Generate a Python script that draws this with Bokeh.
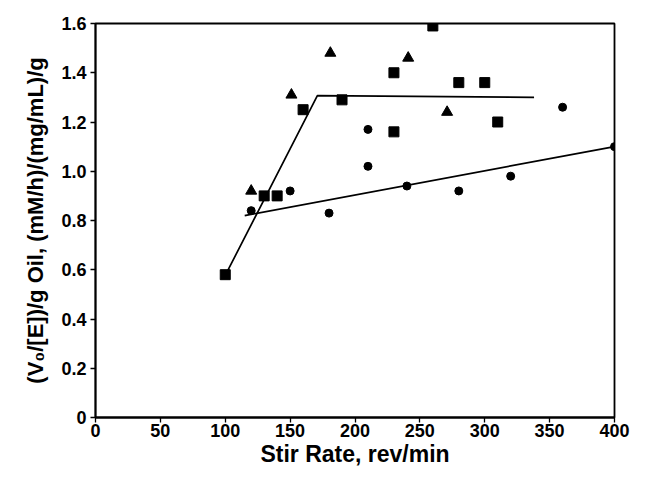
from bokeh.plotting import figure
from bokeh.embed import file_html
from bokeh.resources import INLINE
from bokeh.models import FixedTicker, Range1d

# --- data ---
circle_x = [120, 150, 180, 210, 210, 240, 280, 320, 360, 400]
circle_y = [0.84, 0.92, 0.83, 1.17, 1.02, 0.94, 0.92, 0.98, 1.26, 1.10]

square_x = [100, 130, 140, 160, 190, 230, 230, 260, 280, 300, 310]
square_y = [0.58, 0.90, 0.90, 1.25, 1.29, 1.40, 1.16, 1.59, 1.36, 1.36, 1.20]

triangle_x = [120, 151, 181, 241, 271]
triangle_y = [0.92, 1.31, 1.48, 1.46, 1.24]

# fitted trend lines
fit_circle_x = [115, 400]
fit_circle_y = [0.82, 1.10]
fit_square_x = [100, 171, 338]
fit_square_y = [0.577, 1.307, 1.30]

x_ticks = [0, 50, 100, 150, 200, 250, 300, 350, 400]
y_ticks = [0, 0.2, 0.4, 0.6, 0.8, 1.0, 1.2, 1.4, 1.6]
y_tick_labels = ["0", "0.2", "0.4", "0.6", "0.8", "1.0", "1.2", "1.4", "1.6"]

FONT = "Liberation Sans"

p = figure(width=631, height=469, output_backend="svg", toolbar_location=None,
           x_range=Range1d(0, 400), y_range=Range1d(0, 1.6),
           min_border_left=95, min_border_right=17, min_border_top=23, min_border_bottom=49)

p.xgrid.visible = False
p.ygrid.visible = False
p.outline_line_color = "black"
p.outline_line_width = 1.8

p.line(fit_circle_x, fit_circle_y, line_color="black", line_width=1.7)
p.line(fit_square_x, fit_square_y, line_color="black", line_width=1.7)

p.scatter(circle_x, circle_y, marker="circle", size=8, color="black")
p.scatter(square_x, square_y, marker="square", size=10, color="black")
p.scatter(triangle_x, triangle_y, marker="triangle", size=11, color="black")

for ax in (p.xaxis, p.yaxis):
    ax.axis_line_color = "black"
    ax.axis_line_width = 1.8
    ax.major_tick_line_color = "black"
    ax.major_tick_line_width = 1.3
    ax.major_tick_out = 5
    ax.major_tick_in = 0
    ax.minor_tick_line_color = None
    ax.major_label_text_font = FONT
    ax.major_label_text_font_style = "bold"
    ax.major_label_text_font_size = "18px"
    ax.major_label_text_color = "black"
    ax.axis_label_text_font = FONT
    ax.axis_label_text_font_style = "bold"
    ax.axis_label_text_color = "black"

p.xaxis.axis_label_text_font_size = "23px"
p.yaxis.axis_label_text_font_size = "22px"

p.xaxis.ticker = FixedTicker(ticks=x_ticks)
p.yaxis.ticker = FixedTicker(ticks=y_ticks)
p.yaxis.major_label_overrides = {t: l for t, l in zip(y_ticks, y_tick_labels)}
p.xaxis.major_label_standoff = 1
p.yaxis.major_label_standoff = 4
p.xaxis.axis_label = "Stir Rate, rev/min"
p.yaxis.axis_label = "(V\u2080/[E])/g Oil, (mM/h)/(mg/mL)/g"
p.xaxis.axis_label_standoff = 1
p.yaxis.axis_label_standoff = 10

open("out.html", "w").write(file_html(p, INLINE))
